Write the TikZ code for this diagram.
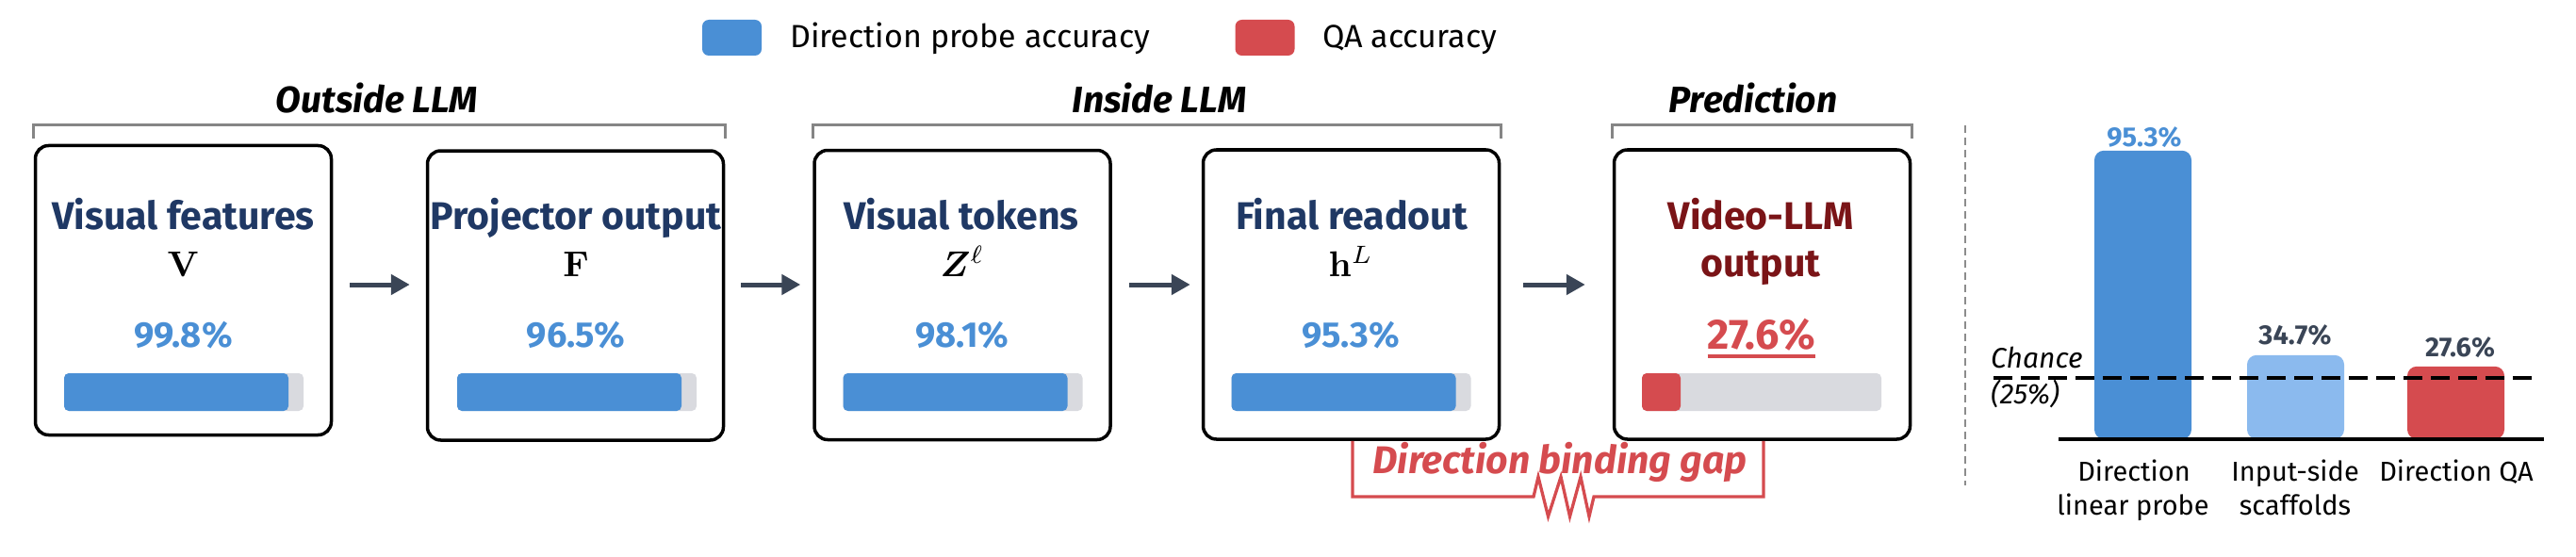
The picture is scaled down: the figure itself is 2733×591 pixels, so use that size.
\documentclass[tikz,border=0pt]{standalone}
\usepackage{amsmath,amssymb,bm,graphicx}
\usepackage[no-math]{fontspec}
\setmainfont{Fira Sans}
\usetikzlibrary{arrows.meta,calc}
\definecolor{navy}{HTML}{1F3864}
\definecolor{pblue}{HTML}{4A8FD5}
\definecolor{lblue}{HTML}{8BBAEE}
\definecolor{qred}{HTML}{D54B4F}
\definecolor{dred}{HTML}{7A1417}
\definecolor{slate}{HTML}{3A4556}
\definecolor{bargrey}{HTML}{D9DADF}
\definecolor{brkgrey}{HTML}{858585}
\definecolor{sepgrey}{HTML}{8C8C8C}
\newcommand\bigmath[1]{\scalebox{3.8}{$#1$}}
\begin{document}
\begin{tikzpicture}[x=1pt,y=-1pt,
  card/.style={draw=black, line width=3.5pt, rounded corners=14pt, minimum width=314pt, minimum height=307pt, inner sep=0pt},
  ttl/.style={font=\fontsize{41}{46}\selectfont\bfseries, text=navy, inner sep=0pt, anchor=base},
  mth/.style={font=\fontsize{10}{12}\selectfont, inner sep=0pt, anchor=base},
  val/.style={font=\fontsize{38}{40}\selectfont\bfseries, text=pblue, inner sep=0pt, anchor=base},
  barbg/.style={fill=bargrey, rounded corners=5pt, minimum width=254pt, minimum height=40pt, inner sep=0pt},
  prog/.style 2 args={path picture={\fill[#2] (path picture bounding box.north west) rectangle ([xshift=#1pt]path picture bounding box.south west);}},
  flow/.style={draw=slate, line width=5pt, -{Triangle[length=20pt,width=21pt]}},
  brk/.style={draw=brkgrey, line width=3pt},
  grp/.style={font=\fontsize{39}{42}\selectfont\bfseries\itshape, inner sep=0pt, anchor=base},
  legsq/.style={minimum width=63pt, minimum height=38pt, rounded corners=7pt, inner sep=0pt},
  legtx/.style={font=\fontsize{34}{38}\selectfont, inner sep=0pt, anchor=base west},
  gapline/.style={draw=qred, line width=3.3pt, line join=miter},
  cbar/.style={minimum width=103pt, rounded corners=10pt, inner sep=0pt, anchor=south},
  cval/.style={font=\fontsize{29}{32}\selectfont\bfseries, inner sep=0pt, anchor=base},
  clab/.style={font=\fontsize{29}{32}\selectfont, inner sep=0pt, anchor=base},
  chance/.style={font=\fontsize{30}{32}\selectfont\itshape, inner sep=0pt, anchor=base west}]
\useasboundingbox (0,0) rectangle (2733,591);

% legend
\node[legsq, fill=pblue] (lg1) at (776.5,40) {};
\node[legtx] (lt1) at (838,51) {Direction probe accuracy};
\node[legsq, fill=qred] (lg2) at (1342,40) {};
\node[legtx] (lt2) at (1403,51) {QA accuracy};

% cards
\node[card] (b1) at (194.5,308) {};
\node[card] (b2) at (610.5,313.5) {};
\node[card] (b3) at (1021,313) {};
\node[card] (b4) at (1433.5,312.5) {};
\node[card] (b5) at (1869.5,312.5) {};

% group brackets
\coordinate (bt) at (0,133);
\coordinate (bb) at (0,147);
\draw[brk] (b1.west |- bb) -- (b1.west |- bt) -- (b2.east |- bt) -- (b2.east |- bb);
\draw[brk] (b3.west |- bb) -- (b3.west |- bt) -- (b4.east |- bt) -- (b4.east |- bb);
\draw[brk] (b5.west |- bb) -- (b5.west |- bt) -- (b5.east |- bt) -- (b5.east |- bb);
\node[grp] (g1) at (400,120) {Outside LLM};
\node[grp] (g2) at (1230,120) {Inside LLM};
\node[grp] (g3) at (1860,120) {Prediction};

% card contents
\node[ttl] (t1) at (194.5,243) {Visual features};
\node[mth] (m1) at (194.5,293) {\bigmath{\mathbf{V}}};
\node[val] (v1) at (194.5,368) {99.8\%};
\node[barbg, prog={238}{pblue}] (p1) at (195,416) {};

\node[ttl] (t2) at (611,243) {Projector output};
\node[mth] (m2) at (611,293) {\bigmath{\mathbf{F}}};
\node[val] (v2) at (611,368) {96.5\%};
\node[barbg, prog={238}{pblue}] (p2) at (612,416) {};

\node[ttl] (t3) at (1020,243) {Visual tokens};
\node[mth] (m3) at (1021,293) {\bigmath{\bm{Z}^{\ell}}};
\node[val] (v3) at (1021,368) {98.1\%};
\node[barbg, prog={238}{pblue}] (p3) at (1021.5,416) {};

\node[ttl] (t4) at (1434,243) {Final readout};
\node[mth] (m4) at (1433,293) {\bigmath{\mathbf{h}^{L}}};
\node[val] (v4) at (1433,368) {95.3\%};
\node[barbg, prog={238}{pblue}] (p4) at (1433.5,416) {};

\node[ttl, text=dred] (t5) at (1868,243) {Video-LLM};
\node[ttl, text=dred] (t5b) at (1868,293) {output};
\node[val, text=qred, font=\fontsize{45}{48}\selectfont\bfseries] (v5) at (1869,370) {27.6\%};
\draw[qred, line width=4pt] ([yshift=-8pt]v5.base west) -- ([yshift=-8pt]v5.base east);
\node[barbg, prog={41}{qred}] (p5) at (1869,416) {};

% flow arrows
\coordinate (ay) at (0,302);
\draw[flow, shorten <=18pt, shorten >=17pt] (b1.east |- ay) -- (b2.west |- ay);
\draw[flow, shorten <=17pt, shorten >=13pt] (b2.east |- ay) -- (b3.west |- ay);
\draw[flow, shorten <=18pt, shorten >=12pt] (b3.east |- ay) -- (b4.west |- ay);
\draw[flow, shorten <=24pt, shorten >=29pt] (b4.east |- ay) -- (b5.west |- ay);

% binding gap
\coordinate (gL) at (1435,527);
\coordinate (gR) at (1871,527);
\draw[gapline] (b4.south -| gL) -- (gL) -- (1627,527) -- (1632,506) -- (1642.5,548) -- (1656,506) -- (1665.5,548) -- (1677,506) -- (1686,548) -- (1691,527) -- (gR) -- (b5.south -| gR);
\node[font=\fontsize{41}{46}\selectfont\bfseries\itshape, text=qred, inner sep=0pt, anchor=base] (gapt) at (1655,502) {Direction binding gap};

% separator
\draw[sepgrey, line width=2.5pt, dash pattern=on 8pt off 5pt] (2085,133) coordinate (s1) -- (2085,515) coordinate (s2);

% bar chart
\node[cbar, fill=pblue, minimum height=306pt] (c1) at (2273.5,466) {};
\node[cbar, fill=lblue, minimum height=89pt] (c2) at (2435.5,466) {};
\node[cbar, fill=qred, minimum height=77pt] (c3) at (2605.5,466) {};
\draw[black, line width=4pt] (2184,466) coordinate (ax1) -- (2699,466) coordinate (ax2);
\draw[black, line width=4pt, dash pattern=on 20pt off 9pt] (2115,401) coordinate (ch1) -- (2692,401) coordinate (ch2);
\node[cval, text=pblue] (cv1) at (2275,155) {95.3\%};
\node[cval, text=slate] (cv2) at (2435,365) {34.7\%};
\node[cval, text=slate] (cv3) at (2610,378) {27.6\%};
\node[chance] (chA) at (2112,390) {Chance};
\node[chance] (chB) at (2112,428) {(25\%)};
\node[clab] (l1a) at (2264,510) {Direction};
\node[clab] (l1b) at (2263,546) {linear probe};
\node[clab] (l2a) at (2435,510) {Input-side};
\node[clab] (l2b) at (2435,546) {scaffolds};
\node[clab] (l3a) at (2606,510) {Direction QA};
\end{tikzpicture}
\end{document}
